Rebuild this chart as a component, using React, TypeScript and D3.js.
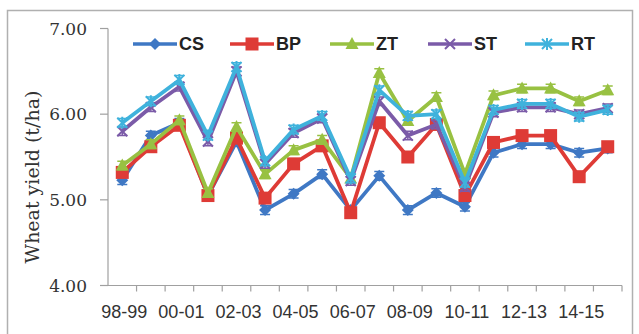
import React from "react";
import * as d3 from "d3";

const seasons = [
  "98-99", "99-00", "00-01", "01-02", "02-03", "03-04", "04-05", "05-06", "06-07",
  "07-08", "08-09", "09-10", "10-11", "11-12", "12-13", "13-14", "14-15", "15-16",
];
const shownLabels = ["98-99", "00-01", "02-03", "04-05", "06-07", "08-09", "10-11", "12-13", "14-15"];
const yTicks = [4, 5, 6, 7];

const csYield = [5.23, 5.75, 5.9, 5.05, 5.68, 4.88, 5.07, 5.3, 4.88, 5.28, 4.88, 5.08, 4.92, 5.55, 5.65, 5.65, 5.55, 5.6];
const bpYield = [5.32, 5.62, 5.87, 5.05, 5.72, 5.02, 5.42, 5.63, 4.85, 5.9, 5.5, 5.88, 5.05, 5.67, 5.75, 5.75, 5.27, 5.62];
const ztYield = [5.4, 5.65, 5.93, 5.08, 5.85, 5.3, 5.58, 5.7, 5.25, 6.48, 5.92, 6.2, 5.3, 6.22, 6.3, 6.3, 6.15, 6.28];
const stYield = [5.8, 6.08, 6.32, 5.68, 6.5, 5.42, 5.78, 5.95, 5.22, 6.15, 5.75, 5.88, 5.15, 6.02, 6.08, 6.08, 6.0, 6.07];
const rtYield = [5.9, 6.15, 6.4, 5.75, 6.55, 5.45, 5.82, 5.98, 5.25, 6.28, 5.98, 6.0, 5.2, 6.05, 6.12, 6.12, 5.97, 6.05];
const errorBar = 0.05;

const series = [
  { name: "CS", values: csYield, color: "#3f78c4", marker: "diamond" },
  { name: "BP", values: bpYield, color: "#de3b36", marker: "square" },
  { name: "ZT", values: ztYield, color: "#98c142", marker: "triangle" },
  { name: "ST", values: stYield, color: "#7b5ba8", marker: "cross" },
  { name: "RT", values: rtYield, color: "#3fb2dc", marker: "star" },
];

const Marker = ({ kind, x, y, color }: { kind: string; x: number; y: number; color: string }) => {
  if (kind === "diamond") {
    return <path d={`M${x},${y - 6}L${x + 6},${y}L${x},${y + 6}L${x - 6},${y}Z`} fill={color} />;
  }
  if (kind === "square") {
    return <rect x={x - 6.5} y={y - 6.5} width={13} height={13} fill={color} />;
  }
  if (kind === "triangle") {
    return <path d={`M${x},${y - 7}L${x + 6.5},${y + 5}L${x - 6.5},${y + 5}Z`} fill={color} />;
  }
  if (kind === "cross") {
    return (
      <path d={`M${x - 5},${y - 5}L${x + 5},${y + 5}M${x - 5},${y + 5}L${x + 5},${y - 5}`}
        stroke={color} strokeWidth={2} />
    );
  }
  return (
    <path d={`M${x - 5},${y - 5}L${x + 5},${y + 5}M${x - 5},${y + 5}L${x + 5},${y - 5}M${x},${y - 6}L${x},${y + 6}`}
      stroke={color} strokeWidth={2} />
  );
};

const App = () => {
  const x = d3.scaleBand().domain(seasons).range([108, 622]).padding(0);
  const y = d3.scaleLinear().domain([4, 7]).range([285.5, 28.5]);
  const cx = (s: string) => (x(s) as number) + x.bandwidth() / 2;

  const line = d3
    .line<number>()
    .x((_, i) => cx(seasons[i]))
    .y((d) => y(d));

  const legendX = [133, 230, 330, 428, 525];

  return (
    <svg width={639} height={334} style={{ position: "absolute", left: 0, top: 0, background: "#fff" }}>
      <rect x={7.5} y={10.5} width={625} height={330} fill="#fff" stroke="#b0b0b0" strokeWidth={1.5} />

      {/* axes */}
      <line x1={108} x2={108} y1={y(7)} y2={y(4)} stroke="#a0a0a0" strokeWidth={1.2} />
      <line x1={108} x2={622} y1={y(4)} y2={y(4)} stroke="#a0a0a0" strokeWidth={1.2} />
      {yTicks.map((t) => (
        <g key={t}>
          <line x1={100} x2={108} y1={y(t)} y2={y(t)} stroke="#a0a0a0" strokeWidth={1.2} />
          <text x={87} y={y(t)} dy="0.36em" textAnchor="end" fontFamily="DejaVu Serif" fontSize={17} fill="#333">
            {d3.format(".2f")(t)}
          </text>
        </g>
      ))}
      {seasons.map((s) => (
        <line key={s} x1={(x(s) as number) + x.bandwidth()} x2={(x(s) as number) + x.bandwidth()}
          y1={y(4)} y2={y(4) + 6} stroke="#a0a0a0" strokeWidth={1.2} />
      ))}
      {shownLabels.map((s) => (
        <text key={s} x={cx(s) + 2} y={318} textAnchor="middle" fontFamily="Liberation Sans" fontSize={18} fill="#333">
          {s}
        </text>
      ))}
      <text transform={`translate(32,177) rotate(-90)`} textAnchor="middle" dy="0.35em"
        fontFamily="DejaVu Serif" fontSize={19} fill="#333">
        Wheat yield (t/ha)
      </text>

      {/* series */}
      {series.map((sr) => (
        <g key={sr.name}>
          <path d={line(sr.values) as string} fill="none" stroke={sr.color} strokeWidth={3.8} strokeLinejoin="round" />
          {sr.values.map((v, i) => {
            const px = cx(seasons[i]);
            return (
              <g key={i}>
                <path
                  d={`M${px},${y(v + errorBar)}L${px},${y(v - errorBar)}M${px - 5},${y(v + errorBar)}L${px + 5},${y(v + errorBar)}M${px - 5},${y(v - errorBar)}L${px + 5},${y(v - errorBar)}`}
                  stroke={sr.color} strokeWidth={1.5} />
                <Marker kind={sr.marker} x={px} y={y(v)} color={sr.color} />
              </g>
            );
          })}
        </g>
      ))}

      {/* legend */}
      {series.map((sr, i) => (
        <g key={sr.name}>
          <line x1={legendX[i]} x2={legendX[i] + 44} y1={44} y2={44} stroke={sr.color} strokeWidth={3.5} />
          <Marker kind={sr.marker} x={legendX[i] + 22} y={44} color={sr.color} />
          <text x={legendX[i] + 46} y={44} dy="0.36em" fontFamily="Liberation Sans" fontWeight="bold" fontSize={18} fill="#222">
            {sr.name}
          </text>
        </g>
      ))}
    </svg>
  );
};

export default App;
